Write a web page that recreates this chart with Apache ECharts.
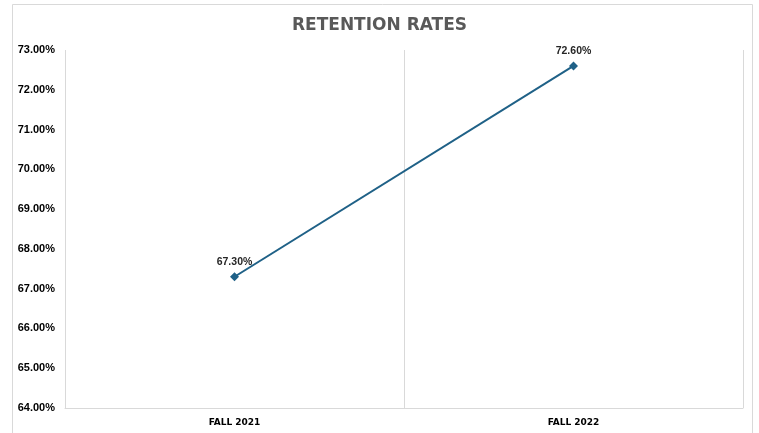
<!DOCTYPE html>
<html>
<head>
<meta charset="utf-8">
<script src="https://cdn.jsdelivr.net/npm/echarts@6/dist/echarts.min.js"></script>
<style>
html,body{margin:0;padding:0;background:#fff;}
#chart{width:759px;height:433px;}
</style>
</head>
<body>
<div id="chart"></div>
<script>
const categories = ['FALL 2021', 'FALL 2022'];
const retention = [67.3, 72.6];
const yMin = 64, yMax = 73, yStep = 1;
const titleText = 'RETENTION RATES';

const chart = echarts.init(document.getElementById('chart'), null, {renderer: 'canvas'});
chart.setOption({
  backgroundColor: '#ffffff',
  animation: false,
  graphic: [{
    type: 'rect',
    shape: {x: 12.5, y: 4.5, width: 740, height: 440},
    style: {fill: 'none', stroke: '#d9d9d9', lineWidth: 1},
    silent: true, z: -1
  }],
  title: {
    text: titleText,
    left: 'center',
    top: 12,
    textStyle: {fontFamily: 'DejaVu Sans', fontWeight: 'bold', fontSize: 17, color: '#595959'}
  },
  grid: {left: 65, right: 16, top: 50, bottom: 25, containLabel: false},
  xAxis: {
    type: 'category',
    data: categories,
    boundaryGap: true,
    axisLine: {show: true, lineStyle: {color: '#d9d9d9', width: 1}},
    axisTick: {show: false},
    splitLine: {show: true, lineStyle: {color: '#d9d9d9', width: 1}},
    axisLabel: {fontFamily: 'DejaVu Sans', fontWeight: 'bold', fontSize: 9, color: '#000', margin: 10}
  },
  yAxis: {
    type: 'value',
    min: yMin, max: yMax, interval: yStep,
    axisLine: {show: false},
    axisTick: {show: false},
    splitLine: {show: false},
    axisLabel: {
      fontFamily: 'Liberation Sans', fontWeight: 'bold', fontSize: 11, color: '#000', margin: 10,
      formatter: v => v.toFixed(2) + '%'
    }
  },
  series: [{
    type: 'line',
    data: retention,
    symbol: 'diamond',
    symbolSize: 9,
    lineStyle: {color: '#1f6187', width: 2},
    itemStyle: {color: '#1f6187'},
    label: {
      show: true, position: 'top', distance: 5,
      fontFamily: 'Liberation Sans', fontWeight: 'bold', fontSize: 10.5, color: '#262626',
      formatter: p => p.value.toFixed(2) + '%'
    }
  }]
});
</script>
</body>
</html>
